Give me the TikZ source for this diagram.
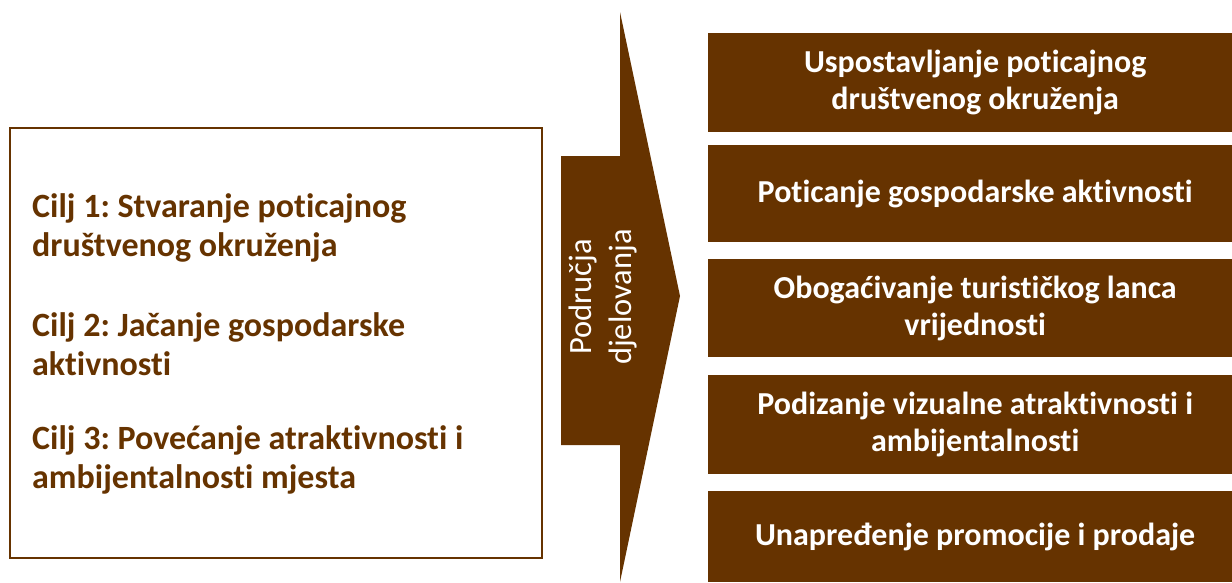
\documentclass[tikz,border=0pt]{standalone}
\usepackage{fontspec}
\setmainfont{Carlito}[Ligatures=NoCommon]
\definecolor{brn}{HTML}{663300}
\begin{document}
\frenchspacing
\begin{tikzpicture}[x=1pt,y=-1pt,
  rbox/.style={fill=brn,draw=none,anchor=north west,text=white,font=\bfseries\fontsize{32}{37}\selectfont,align=center,inner sep=0pt,minimum width=534pt},
  ltxt/.style={text=brn,font=\bfseries\fontsize{34}{39}\selectfont,align=left,anchor=west,inner sep=0pt}]
\useasboundingbox (0,0) rectangle (1232,582);
\node[draw=brn,line width=2pt,minimum width=532pt,minimum height=430pt,anchor=north west,inner sep=0pt] (lbox) at (9,127) {};
\node[ltxt] (c1) at (32,228) {Cilj 1: Stvaranje poticajnog\\društvenog okruženja};
\node[ltxt] (c2) at (32,344) {Cilj 2: Jačanje gospodarske\\aktivnosti};
\node[ltxt] (c3) at (32,460) {Cilj 3: Povećanje atraktivnosti i\\ambijentalnosti mjesta};
\fill[brn] (561,156) -- (620,156) -- (620,12) -- (680,296) -- (620,582) -- (620,445) -- (561,445) -- cycle;
\node[text=white,rotate=90,font=\fontsize{32.5}{40}\selectfont,align=center,inner sep=0pt] (arr) at (603,297) {Područja\\djelovanja};
\node[rbox,minimum height=99pt] (r1) at (708,33) {Uspostavljanje poticajnog\\društvenog okruženja};
\node[rbox,minimum height=97pt] (r2) at (708,145) {Poticanje gospodarske aktivnosti};
\node[rbox,minimum height=98pt] (r3) at (708,259) {Obogaćivanje turističkog lanca\\vrijednosti};
\node[rbox,minimum height=99pt] (r4) at (708,375) {Podizanje vizualne atraktivnosti i\\ambijentalnosti};
\node[rbox,minimum height=91pt] (r5) at (708,491) {Unapređenje promocije i prodaje};
\end{tikzpicture}
\end{document}
